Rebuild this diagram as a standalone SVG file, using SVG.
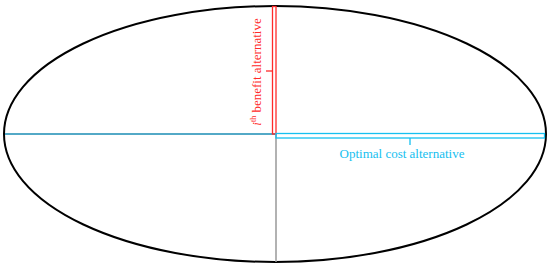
<svg xmlns="http://www.w3.org/2000/svg" width="550" height="268" viewBox="0 0 550 268">
<style>
.lbl{font-family:"Liberation Serif","Times New Roman",serif;font-size:13px}
</style>
<rect width="550" height="268" fill="#fff"/>
<g id="ellipse"><ellipse cx="275" cy="134" rx="271" ry="128" fill="none" stroke="#000" stroke-width="2"/></g>
<g id="connectors">
<line x1="5" y1="134" x2="275" y2="134" stroke="#1a8cb4" stroke-width="1.5"/>
<line x1="276" y1="134" x2="276" y2="262" stroke="#999" stroke-width="1.5"/>
</g>
<g id="benefit">
<rect x="272.5" y="6.5" width="3.5" height="127.5" fill="none" stroke="#ff2a2a" stroke-width="1.3"/>
<line x1="266" y1="71" x2="272.5" y2="71" stroke="#ff2a2a" stroke-width="1.3"/>
<text class="lbl" fill="#ff2a2a" transform="translate(261,72) rotate(-90)" text-anchor="middle"><tspan font-style="italic">i</tspan><tspan font-size="8" dy="-5">th</tspan><tspan dy="5"> benefit alternative</tspan></text>
</g>
<g id="cost">
<rect x="276" y="133.5" width="268.5" height="4.5" fill="none" stroke="#15c0f0" stroke-width="1.3"/>
<line x1="410" y1="138" x2="410" y2="145" stroke="#15c0f0" stroke-width="1.3"/>
<text class="lbl" fill="#15c0f0" x="402" y="158" text-anchor="middle">Optimal cost alternative</text>
</g>
</svg>
